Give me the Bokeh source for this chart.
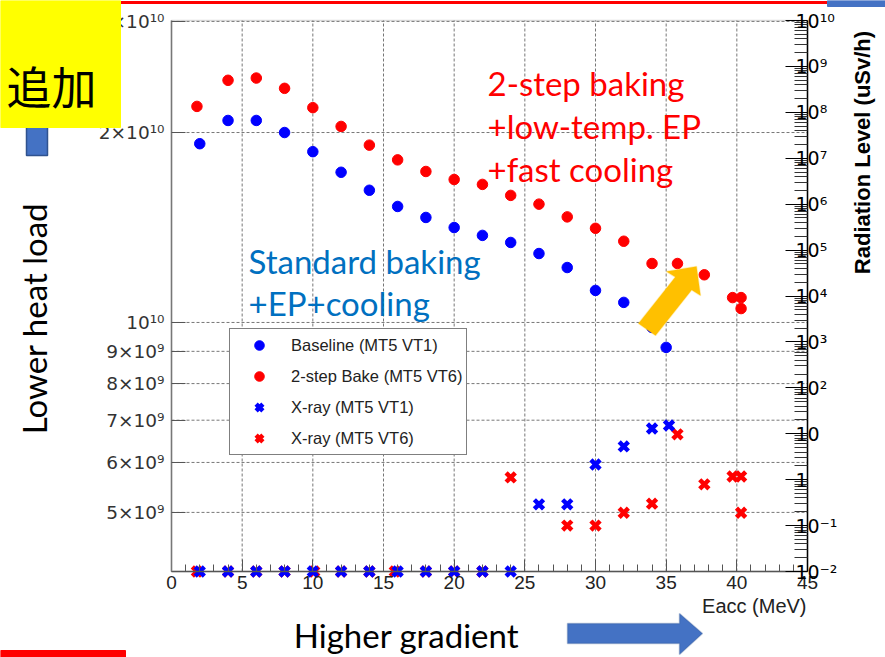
import math
from math import pi
from bokeh.plotting import figure
from bokeh.models import (Range1d, LogAxis, LinearAxis, FixedTicker, CustomJSTickFormatter, BoxAnnotation,
                          Legend, LegendItem, Label, PolyAnnotation, LogScale)
from bokeh.embed import file_html
from bokeh.resources import INLINE

# ---------------- data ----------------
base_eacc = [2, 4, 6, 8, 10, 12, 14, 16, 18, 20, 22, 24, 26, 28, 30, 32, 34, 35]
base_q0 = [1.92e10, 2.09e10, 2.09e10, 2.00e10, 1.865e10, 1.73e10, 1.62e10, 1.527e10, 1.467e10,
           1.414e10, 1.374e10, 1.339e10, 1.286e10, 1.222e10, 1.124e10, 1.076e10, 0.982e10, 0.913e10]

bake_eacc = [1.8, 4, 6, 8, 10, 12, 14, 16, 18, 20, 22, 24, 26, 28, 30, 32, 34, 35.8, 37.7, 39.7, 40.3, 40.3]
bake_q0 = [2.20e10, 2.42e10, 2.44e10, 2.35e10, 2.19e10, 2.045e10, 1.91e10, 1.81e10, 1.735e10, 1.685e10,
           1.655e10, 1.59e10, 1.54e10, 1.47e10, 1.41e10, 1.345e10, 1.24e10, 1.24e10, 1.19e10, 1.095e10,
           1.095e10, 1.052e10]

xray_vt1_eacc = [2, 4, 6, 8, 10, 12, 14, 16, 18, 20, 22, 24, 26, 28, 30, 32, 34, 35.2]
xray_vt1_rad = [0.01, 0.01, 0.01, 0.01, 0.01, 0.01, 0.01, 0.01, 0.01, 0.01, 0.01, 0.01,
                0.29, 0.29, 2.14, 5.3, 13.0, 15.1]

xray_vt6_eacc = [1.8, 4, 6, 8, 10.1, 12, 14, 15.8, 18, 20, 22, 24, 28, 30, 32, 34, 35.8, 37.7, 39.7, 40.3, 40.3]
xray_vt6_rad = [0.01, 0.01, 0.01, 0.01, 0.01, 0.01, 0.01, 0.01, 0.01, 0.01, 0.01,
                1.12, 0.1, 0.1, 0.19, 0.30, 9.7, 0.79, 1.17, 1.17, 0.19]

x_lo, x_hi = 0, 45
q0_lo, q0_hi = 4.03e9, 3.01e10
rad_lo, rad_hi = 1e-2, 1e10

x_ticks = [0, 5, 10, 15, 20, 25, 30, 35, 40, 45]
x_minor = list(range(0, 46))
left_ticks = [5e9, 6e9, 7e9, 8e9, 9e9, 1e10, 2e10, 3e10]
left_tick_labels = ["5×10⁹", "6×10⁹", "7×10⁹", "8×10⁹", "9×10⁹", "10¹⁰", "2×10¹⁰", "3×10¹⁰"]
right_ticks = [1e-2, 1e-1, 1, 10, 1e2, 1e3, 1e4, 1e5, 1e6, 1e7, 1e8, 1e9, 1e10]
right_tick_labels = ["10⁻²", "10⁻¹", "1", "10", "10²", "10³", "10⁴", "10⁵", "10⁶", "10⁷", "10⁸", "10⁹", "10¹⁰"]
right_minor = [m * t for t in right_ticks[:-1] for m in range(2, 10)]

legend_labels = ["Baseline (MT5 VT1)", "2-step Bake (MT5 VT6)", "X-ray (MT5 VT1)", "X-ray (MT5 VT6)"]
x_title = "Eacc (MeV)"
y2_title = "Radiation Level (uSv/h)"
red_note = ["2-step baking", "+low-temp. EP", "+fast cooling"]
blue_note = ["Standard baking", "+EP+cooling"]

# ---------------- page geometry ----------------
W, H = 885, 657
FL, FR, FT, FB = 171, 807, 20, 571   # chart frame edges on the page (px)

ppu = (FR - FL) / (x_hi - x_lo)
xr = Range1d(x_lo - FL / ppu, x_hi + (W - FR) / ppu)


def ext_log(lo, hi):
    dec = (math.log10(hi) - math.log10(lo)) / (FB - FT)
    return Range1d(10 ** (math.log10(lo) - (H - FB) * dec), 10 ** (math.log10(hi) + FT * dec))


p = figure(width=W, height=H, output_backend="svg", toolbar_location=None,
           x_range=xr, y_range=ext_log(q0_lo, q0_hi), y_axis_type="log",
           x_axis_location=None, y_axis_location=None, min_border=0)
p.title.visible = False
p.extra_y_ranges = {"rad": ext_log(rad_lo, rad_hi)}
p.extra_y_scales = {"rad": LogScale()}
p.background_fill_color = "white"
p.border_fill_color = "white"
p.outline_line_color = None
p.grid.visible = False

fmt_code = """
let b = 0, d = Infinity;
for (let i = 0; i < tvals.length; i++) {
  const q = Math.abs(Math.log(tvals[i]) - Math.log(tick));
  if (q < d) { d = q; b = i; }
}
return tlabels[b];
"""

# grid lines
gx = x_ticks[1:-1]
p.segment(x0=gx, y0=[q0_lo] * len(gx), x1=gx, y1=[q0_hi] * len(gx),
          line_color="#777777", line_dash="3 2", line_width=1)
p.segment(x0=[x_lo] * len(left_ticks), y0=left_ticks, x1=[x_hi] * len(left_ticks), y1=left_ticks,
          line_color="#777777", line_dash="3 2", line_width=1)
# chart frame outline
p.add_layout(BoxAnnotation(left=x_lo, right=x_hi, bottom=q0_lo, top=q0_hi, fill_alpha=0,
                           line_color="#888888", line_width=1.5, level="underlay"))

# x axis
xa = LinearAxis(ticker=FixedTicker(ticks=x_ticks, minor_ticks=x_minor), fixed_location=q0_lo,
                bounds=(x_lo, x_hi))
xa.major_tick_in = 12
xa.major_tick_out = 0
xa.minor_tick_in = 7
xa.minor_tick_out = 0
xa.axis_line_color = "#555555"
xa.axis_line_width = 1.5
xa.major_tick_line_color = "#555555"
xa.minor_tick_line_color = "#555555"
xa.major_label_text_font = "Liberation Sans"
xa.major_label_text_font_size = "19px"
xa.major_label_text_color = "#222222"
xa.major_label_standoff = 4
p.add_layout(xa, "below")

# left axis
ya = LogAxis(ticker=FixedTicker(ticks=left_ticks, minor_ticks=[]), fixed_location=x_lo,
             bounds=(q0_lo, q0_hi),
             formatter=CustomJSTickFormatter(args=dict(tvals=left_ticks, tlabels=left_tick_labels), code=fmt_code))
ya.major_tick_in = 14
ya.major_tick_out = 0
ya.minor_tick_in = 0
ya.minor_tick_out = 0
ya.axis_line_color = "#777777"
ya.axis_line_width = 1.5
ya.major_tick_line_color = "#555555"
ya.major_label_text_font = "DejaVu Sans"
ya.major_label_text_font_size = "18.5px"
ya.major_label_text_color = "#333333"
ya.major_label_standoff = 7
p.add_layout(ya, "left")

# right axis
ra = LogAxis(y_range_name="rad", fixed_location=x_hi, bounds=(rad_lo, rad_hi),
             ticker=FixedTicker(ticks=right_ticks, minor_ticks=right_minor),
             formatter=CustomJSTickFormatter(args=dict(tvals=right_ticks, tlabels=right_tick_labels), code=fmt_code))
ra.major_tick_in = 22
ra.major_tick_out = 0
ra.minor_tick_in = 13
ra.minor_tick_out = 0
ra.axis_line_color = "black"
ra.axis_line_width = 1.5
ra.major_tick_line_color = "black"
ra.minor_tick_line_color = "#333333"
ra.major_label_text_font = "DejaVu Sans"
ra.major_label_text_font_size = "19px"
ra.major_label_text_color = "black"
ra.major_label_standoff = -12
p.add_layout(ra, "right")

# data glyphs
r_base = p.scatter(base_eacc, base_q0, marker="circle", size=10.5, color="#0000ff")
r_bake = p.scatter(bake_eacc, bake_q0, marker="circle", size=10.5, color="#ff0000")
r_x6 = p.scatter(xray_vt6_eacc, xray_vt6_rad, marker="x", size=13, line_width=4.5,
                 line_color="#ff0000", y_range_name="rad")
r_x1 = p.scatter(xray_vt1_eacc, xray_vt1_rad, marker="x", size=13, line_width=4.5,
                 line_color="#0000ff", y_range_name="rad")

legend = Legend(items=[LegendItem(label=legend_labels[0], renderers=[r_base]),
                       LegendItem(label=legend_labels[1], renderers=[r_bake]),
                       LegendItem(label=legend_labels[2], renderers=[r_x1]),
                       LegendItem(label=legend_labels[3], renderers=[r_x6])],
                location=(229, H - 455), glyph_height=24, glyph_width=50, label_height=24,
                spacing=7, padding=4, label_standoff=7, margin=0,
                border_line_color="black", border_line_width=1.5,
                background_fill_color="white", background_fill_alpha=1.0,
                label_text_font="Liberation Sans", label_text_font_size="16.5px",
                label_text_color="#222222")
p.add_layout(legend)


# ---------------- slide decorations (canvas px) ----------------
def lab(text, x, y, **kw):
    d = dict(x=x, y=y, x_units="canvas", y_units="canvas", text=text, level="overlay")
    d.update(kw)
    p.add_layout(Label(**d))


def box(l, r, t, b, color, line=None, lw=1):
    p.add_layout(BoxAnnotation(left=l, right=r, top=t, bottom=b,
                               left_units="canvas", right_units="canvas",
                               top_units="canvas", bottom_units="canvas",
                               fill_color=color, fill_alpha=1.0, line_width=lw,
                               line_color=line if line else color, line_alpha=1.0, level="overlay"))


def poly(pts, color, line):
    p.add_layout(PolyAnnotation(xs=[q[0] for q in pts], ys=[q[1] for q in pts],
                                xs_units="canvas", ys_units="canvas",
                                fill_color=color, fill_alpha=1.0, line_color=line, line_width=1.5,
                                level="overlay"))


box(120, 827, 1, 3, "#ff0000")
box(827, W, 0, 6, "#4472C4")
box(0, 125, 650, H, "#ff0000")
box(26, 47, 100, 155, "#4472C4", "#2F528F", 1.5)
box(0, 120, 0, 127, "#FFFF00")
lab("追加", 51, 85, text_font="Noto Sans CJK JP", text_font_size="45px", text_color="black",
    text_align="center", text_baseline="middle")

for i, t in enumerate(red_note):
    lab(t, 487, 82 + 43 * i, text_font="Lato", text_font_size="33px", text_color="#ff0000",
        text_align="left", text_baseline="middle")
for i, t in enumerate(blue_note):
    lab(t, 248, 260 + 42 * i, text_font="Lato", text_font_size="33px", text_color="#0070C0",
        text_align="left", text_baseline="middle")

lab("Lower heat load", 33, 318, angle=pi / 2, text_font="Lato", text_font_size="33px",
    text_color="black", text_align="center", text_baseline="middle")
lab("Higher gradient", 406, 634, text_font="Lato", text_font_size="33px",
    text_color="black", text_align="center", text_baseline="middle")
lab(x_title, 806, 605, text_font="Liberation Sans", text_font_size="20px",
    text_color="#222222", text_align="right", text_baseline="middle")
lab(y2_title, 862, 152, angle=pi / 2, text_font="Liberation Sans",
    text_font_size="22px", text_font_style="bold", text_color="black",
    text_align="center", text_baseline="middle")

poly([(567, 623), (679, 623), (679, 613), (702, 633), (679, 654), (679, 643), (567, 643)],
     "#4472C4", "#2F528F")
poly([(638, 323), (674.8, 276.6), (666, 271), (696, 266), (700, 295), (691.2, 289.4), (655, 335)],
     "#FFC000", "#FFC000")

open("out.html", "w").write(file_html(p, INLINE))
